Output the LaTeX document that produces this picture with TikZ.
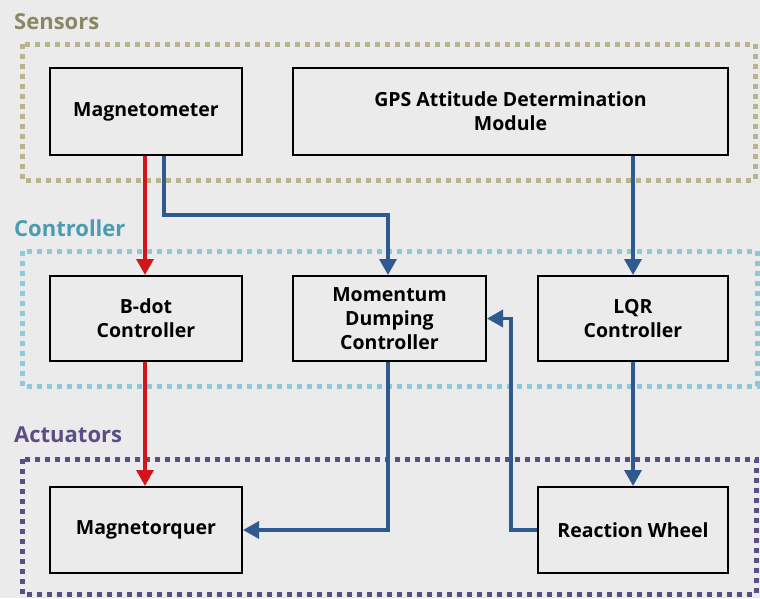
\documentclass[tikz,border=0pt]{standalone}
\usepackage{fontspec}
\setmainfont{Open Sans}
\usetikzlibrary{arrows.meta,calc}
\definecolor{bg}{HTML}{EBEBEB}
\definecolor{senstext}{HTML}{8A8762}
\definecolor{sensdot}{HTML}{B8B48F}
\definecolor{ctrltext}{HTML}{4A9CB3}
\definecolor{ctrldot}{HTML}{8CC9DB}
\definecolor{acttext}{HTML}{5C4D86}
\definecolor{actdot}{HTML}{5C4D86}
\definecolor{bluearr}{HTML}{2E5A8F}
\definecolor{redarr}{HTML}{D2141C}
\tikzset{
  blk/.style={draw=black, line width=2pt, fill=bg, align=center,
    font=\fontsize{19.5}{24}\selectfont\bfseries, inner sep=0pt},
  grp/.style={line width=5pt, dash pattern=on 5pt off 5pt},
  grplabel/.style={anchor=west, font=\fontsize{22}{26}\selectfont\bfseries, inner sep=0pt},
  conn/.style={line width=3.5pt, -{Triangle[length=16pt,width=17pt]}},
  bconn/.style={conn, draw=bluearr},
  rconn/.style={conn, draw=redarr},
}
\begin{document}
\begin{tikzpicture}[x=1pt,y=-1pt]
\useasboundingbox[fill=bg] (0,0) rectangle (760,598);
% groups
\draw[grp, draw=sensdot] (22,44) rectangle (755,180);
\draw[grp, draw=ctrldot] (22,251) rectangle (757,386);
\draw[grp, draw=actdot] (22,459) rectangle (756,594);
\node[grplabel, text=senstext] (lsens) at (14,22) {Sensors};
\node[grplabel, text=ctrltext] (lctrl) at (14,228) {Controller};
\node[grplabel, text=acttext] (lact) at (14,435) {Actuators};
% blocks
\node[blk, minimum width=192pt, minimum height=87pt] (mag) at (146,111.5) {Magnetometer};
\node[blk, minimum width=435pt, minimum height=87pt] (gps) at (510.5,111.5) {GPS Attitude Determination\\Module};
\node[blk, minimum width=192pt, minimum height=85pt] (bdot) at (146,318.5) {B-dot\\Controller};
\node[blk, minimum width=193pt, minimum height=85pt] (mom) at (389.5,318.5) {Momentum\\Dumping\\Controller};
\node[blk, minimum width=190pt, minimum height=85pt] (lqr) at (633,318.5) {LQR\\Controller};
\node[blk, minimum width=192pt, minimum height=86pt] (mt) at (146,530) {Magnetorquer};
\node[blk, minimum width=190pt, minimum height=86pt] (rw) at (633,530) {Reaction Wheel};
% connectors
\draw[rconn] ([xshift=-1pt]mag.south) -- ([xshift=-1pt]bdot.north);
\draw[rconn] ([xshift=-1pt]bdot.south) -- ([xshift=-1pt]mt.north);
\draw[bconn] ([xshift=18pt]mag.south) -- ++(0,59) -| ([xshift=-1.5pt]mom.north);
\draw[bconn] (gps.south -| lqr.north) -- (lqr.north);
\draw[bconn] (lqr.south) -- (rw.north);
\draw[bconn] ([xshift=-1.5pt]mom.south) |- (mt.east);
\draw[bconn] (rw.west) -- ++(-26,0) |- (mom.east);
\end{tikzpicture}
\end{document}
